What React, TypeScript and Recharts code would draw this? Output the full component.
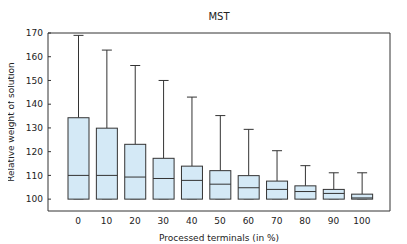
import React from 'react';
import { ComposedChart, Bar, XAxis, YAxis, ReferenceLine } from 'recharts';

const terminals = ['0', '10', '20', '30', '40', '50', '60', '70', '80', '90', '100'];
const minValues = [100, 100, 100, 100, 100, 100, 100, 100, 100, 100, 100];
const q1Values = [100, 100, 100, 100, 100, 100, 100, 100, 100, 100, 100];
const medianValues = [110, 110, 109.3, 108.7, 107.9, 106.3, 104.8, 104.1, 103.2, 102.4, 100.5];
const q3Values = [134.3, 129.9, 123.1, 117.2, 113.9, 112, 109.9, 107.6, 105.6, 104.1, 102.1];
const maxValues = [169, 162.8, 156.3, 150, 143, 135.2, 129.4, 120.4, 114.1, 111.1, 111.1];
const yTicks = [100, 110, 120, 130, 140, 150, 160, 170];

const data = terminals.map((t, i) => ({
  terminals: t,
  min: minValues[i],
  q1: q1Values[i],
  median: medianValues[i],
  q3: q3Values[i],
  max: maxValues[i],
  range: [minValues[i], maxValues[i]],
}));

const font = '"DejaVu Sans", sans-serif';
const ink = '#333';

// box drawn inside the bar's [min, max] pixel span
const BoxShape = (props: any) => {
  const { x, y, width, height, payload } = props;
  const { min, q1, median, q3, max } = payload;
  const toY = (v: number) => y + height - ((v - min) / (max - min)) * height;
  const cx = x + width / 2;
  const cap = 5;
  return (
    <g>
      <line x1={cx} x2={cx} y1={toY(max)} y2={toY(q3)} stroke={ink} />
      <line x1={cx - cap} x2={cx + cap} y1={toY(max)} y2={toY(max)} stroke={ink} />
      <line x1={cx - cap} x2={cx + cap} y1={toY(min)} y2={toY(min)} stroke="#888" />
      <rect x={x} y={toY(q3)} width={width} height={toY(q1) - toY(q3)} fill="#d4e9f6" stroke={ink} />
      <line x1={x} x2={x + width} y1={toY(median)} y2={toY(median)} stroke={ink} />
    </g>
  );
};

const XLabel = (props: any) => {
  const { viewBox } = props;
  return (
    <text x={viewBox.x + viewBox.width / 2} y={viewBox.y + 29.5} textAnchor="middle" fontSize={9} fontFamily={font} fill="#222">
      Processed terminals (in %)
    </text>
  );
};

export default function App() {
  return (
    <div style={{ position: 'relative', width: 391, height: 236 }}>
      <div
        style={{
          position: 'absolute',
          top: 4,
          left: 40,
          width: 342,
          textAlign: 'center',
          fontFamily: font,
          fontSize: 10,
          lineHeight: 1,
          color: '#222',
        }}
      >
        MST
      </div>
      <div
        style={{
          position: 'absolute',
          left: 3,
          top: 114,
          width: 200,
          textAlign: 'center',
          fontFamily: font,
          fontSize: 9,
          lineHeight: 1.2,
          color: '#222',
          whiteSpace: 'nowrap',
          transform: 'translate(-50%, -50%) rotate(-90deg)',
          zIndex: 1,
        }}
      >
        Relative weight of solution
      </div>
      <ComposedChart width={391} height={236} data={data} margin={{ top: 25, right: 4, bottom: 0, left: -8 }}>
        <XAxis
          dataKey="terminals"
          height={33}
          padding={{ left: 16, right: 14 }}
          tickLine={false}
          tickSize={0}
          tickMargin={7}
          axisLine={{ stroke: ink }}
          tick={{ fontSize: 9, fontFamily: font, fill: '#222' }}
          label={<XLabel />}
        />
        <YAxis
          domain={[95, 170]}
          ticks={yTicks}
          width={48}
          tickSize={-3}
          tickMargin={8}
          axisLine={{ stroke: ink }}
          tickLine={{ stroke: ink }}
          tick={{ fontSize: 9, fontFamily: font, fill: '#222' }}
        />
        <YAxis
          yAxisId="right"
          orientation="right"
          domain={[95, 170]}
          ticks={yTicks}
          width={5}
          tickSize={-3}
          tickFormatter={() => ''}
          axisLine={{ stroke: ink }}
          tickLine={{ stroke: ink }}
        />
        <ReferenceLine y={170} stroke={ink} />
        <Bar dataKey="range" barSize={21} shape={<BoxShape />} isAnimationActive={false} />
      </ComposedChart>
    </div>
  );
}
